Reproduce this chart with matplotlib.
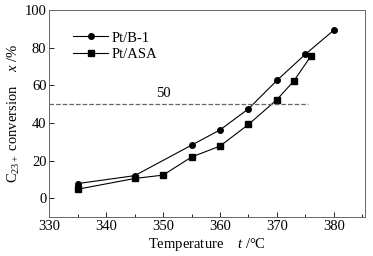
import matplotlib
matplotlib.use("Agg")
import matplotlib.pyplot as plt
from matplotlib.ticker import MultipleLocator

plt.rcParams['font.family'] = ['Liberation Serif', 'DejaVu Serif']
plt.rcParams['mathtext.fontset'] = 'custom'
plt.rcParams['mathtext.rm'] = 'Liberation Serif'
plt.rcParams['mathtext.it'] = 'Liberation Serif:italic'

# data
t_b1 = [335, 345, 355, 360, 365, 370, 375, 380]
x_b1 = [7.8, 12.0, 28.2, 36.3, 47.5, 62.6, 76.5, 89.3]
t_asa = [335, 345, 350, 355, 360, 365, 370, 373, 376]
x_asa = [4.8, 10.5, 12.3, 21.9, 27.7, 39.2, 52.4, 62.4, 75.7]

fs = 10.5
fig = plt.figure(figsize=(3.73, 2.56), dpi=100)
ax = fig.add_axes([0.132, 0.152, 0.847, 0.809])

ax.plot(t_b1, x_b1, '-o', color='black', lw=0.8, ms=4, label='Pt/B-1')
ax.plot(t_asa, x_asa, '-s', color='black', lw=0.8, ms=4, label='Pt/ASA')
ax.plot([330, 375.5], [50, 50], '--', color='#666666', lw=0.9)
ax.text(350, 52, '50', fontsize=fs, ha='center', va='bottom')

ax.set_xlim(330, 385.5)
ax.set_ylim(-10, 100)
ax.xaxis.set_major_locator(MultipleLocator(10))
ax.xaxis.set_minor_locator(MultipleLocator(5))
ax.yaxis.set_major_locator(MultipleLocator(20))
ax.yaxis.set_minor_locator(MultipleLocator(10))
ax.tick_params(which='both', direction='in', labelsize=fs, width=0.6, pad=2)
ax.tick_params(which='major', length=3.5)
ax.tick_params(which='minor', length=2)
ax.tick_params(axis='y', which='minor', length=0)
for s in ax.spines.values():
    s.set_linewidth(0.7)
    s.set_color('#666666')

ax.set_xlabel('Temperature    $t$ /°C', fontsize=fs, labelpad=2)
ax.set_ylabel(r'C$_{23+}$ conversion    $x$ /%', fontsize=fs, labelpad=2)

ax.legend(loc='upper left', frameon=False, fontsize=fs, handlelength=2.4,
          bbox_to_anchor=(0.035, 0.96), labelspacing=0.2, handletextpad=0.2)

fig.savefig('out.png', dpi=100)
